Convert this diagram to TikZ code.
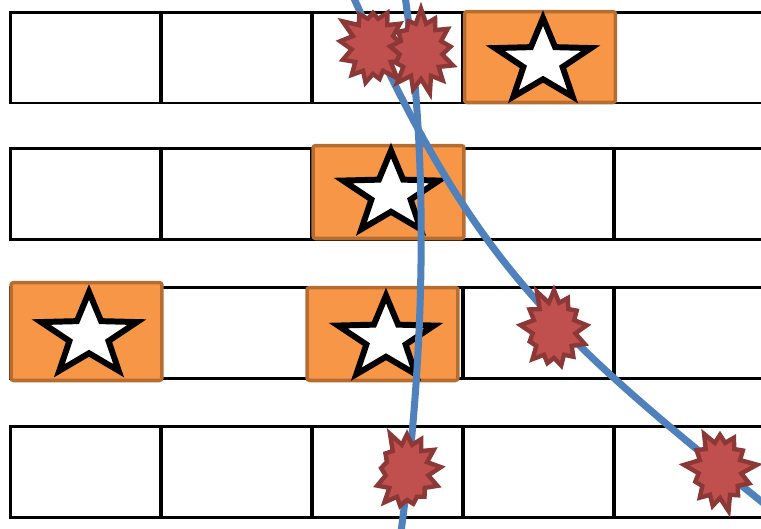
\documentclass[tikz,border=0pt]{standalone}
\usepackage{tikz}
\usetikzlibrary{shapes.geometric,shapes.symbols}
\definecolor{tileFill}{HTML}{F79646}
\definecolor{tileEdge}{HTML}{B66D31}
\definecolor{hitFill}{HTML}{C0504D}
\definecolor{hitEdge}{HTML}{8C3836}
\definecolor{pathBlue}{HTML}{4F81BD}

\begin{document}
\begin{tikzpicture}[x=0.02cm,y=-0.02cm,
    cell/.style={draw=black,line width=1.7pt,fill=white,inner sep=0pt,
                 minimum width=3.02cm,minimum height=1.82cm},
    tile/.style={draw=tileEdge,fill=tileFill,line width=2pt,rounded corners=1.5pt,
                 inner sep=0pt,minimum width=3.02cm},
    starmark/.style={star,star points=5,star point ratio=2.45,draw=black,fill=white,
                     line width=3.4pt,inner sep=0pt,minimum size=1.74cm},
    hit/.style={starburst,starburst points=13,starburst point height=0.32cm,
                draw=hitEdge,fill=hitFill,line width=2.5pt,inner sep=0pt,
                minimum width=1.5cm,minimum height=1.76cm},
    track/.style={draw=pathBlue,line width=4pt}]

  \useasboundingbox (0,0) rectangle (761,528);
  \clip (0,0) rectangle (761,528);

  % rows of cells
  \foreach \r/\cy in {1/57.5,2/194,3/333,4/472}
    \foreach \c in {1,...,5}
      \node[cell] (r\r c\c) at ({85.5+151*(\c-1)},\cy) {};

  % filled tiles
  \node[tile,minimum height=1.82cm] (t1) at (540,57) {};
  \node[tile,minimum height=1.86cm] (t2) at (388.5,192) {};
  \node[tile,minimum height=1.96cm] (t3) at (86.5,331.5) {};
  \node[tile,minimum height=1.86cm] (t4) at (382.5,334) {};

  \foreach \cx/\cy [count=\i] in {543/61.5,391/194,89/335.5,386/339}
    \path[shift={(\cx,\cy)},xscale=1.16] node[starmark,transform shape] (s\i) at (0,0) {};

  % tracks
  \coordinate (a0) at (352,-6);
  \coordinate (a1) at (767,506);
  \coordinate (b0) at (405,-4);
  \coordinate (b1) at (401,532);
  \draw[track] (a0) .. controls (470,256) and (543,327) .. (a1);
  \draw[track] (b0) .. controls (430,170) and (424,360) .. (b1);

  % hits
  \node[hit,random starburst=3] (h1) at (373,46) {};
  \node[hit,random starburst=7] (h2) at (421,51) {};
  \node[hit,random starburst=11] (h3) at (554,330) {};
  \node[hit,random starburst=5] (h4) at (407,472) {};
  \node[hit,random starburst=9] (h5) at (720,470) {};
\end{tikzpicture}
\end{document}
